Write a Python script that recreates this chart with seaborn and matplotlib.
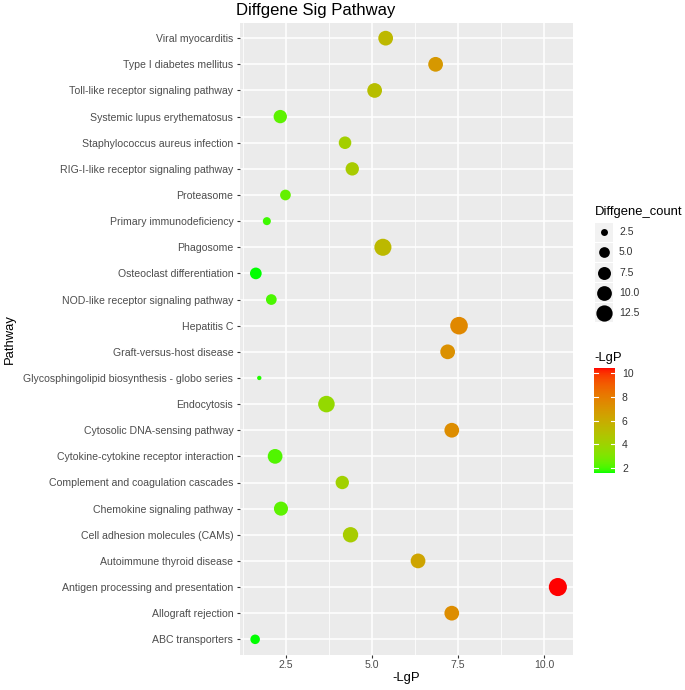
import numpy as np
import pandas as pd
import matplotlib
matplotlib.use("Agg")
import matplotlib.pyplot as plt
import seaborn as sns
from matplotlib.colors import ListedColormap, Normalize
from matplotlib.cm import ScalarMappable
from matplotlib.patches import Rectangle

# ---------------- data ----------------
pathways = [
    "ABC transporters",
    "Allograft rejection",
    "Antigen processing and presentation",
    "Autoimmune thyroid disease",
    "Cell adhesion molecules (CAMs)",
    "Chemokine signaling pathway",
    "Complement and coagulation cascades",
    "Cytokine-cytokine receptor interaction",
    "Cytosolic DNA-sensing pathway",
    "Endocytosis",
    "Glycosphingolipid biosynthesis - globo series",
    "Graft-versus-host disease",
    "Hepatitis C",
    "NOD-like receptor signaling pathway",
    "Osteoclast differentiation",
    "Phagosome",
    "Primary immunodeficiency",
    "Proteasome",
    "RIG-I-like receptor signaling pathway",
    "Staphylococcus aureus infection",
    "Systemic lupus erythematosus",
    "Toll-like receptor signaling pathway",
    "Type I diabetes mellitus",
    "Viral myocarditis",
]
neg_lgp = [1.61, 7.32, 10.40, 6.34, 4.38, 2.36, 4.14, 2.19, 7.32, 3.68,
           1.73, 7.20, 7.53, 2.08, 1.63, 5.32, 1.95, 2.49, 4.43, 4.22,
           2.34, 5.08, 6.85, 5.40]
gene_count = [4, 10, 16, 10, 11, 9, 8, 10, 10, 13,
              2, 10, 15, 5, 6, 14, 3, 5, 8, 7,
              8, 10, 10, 10]

x_ticks = [2.5, 5.0, 7.5, 10.0]
x_tick_labels = ["2.5", "5.0", "7.5", "10.0"]
x_minor_ticks = [1.25, 3.75, 6.25, 8.75]
size_legend_values = [2.5, 5.0, 7.5, 10.0, 12.5]
size_legend_labels = ["2.5", "5.0", "7.5", "10.0", "12.5"]
color_ticks = [2, 4, 6, 8, 10]

df = pd.DataFrame({"Pathway": pathways, "LgP": neg_lgp, "count": gene_count})

# ---------------- colour scale (Lab interpolation green -> red) ----------------
def srgb_to_lab(rgb):
    c = np.asarray(rgb, float)
    lin = np.where(c <= 0.04045, c / 12.92, ((c + 0.055) / 1.055) ** 2.4)
    M = np.array([[0.4124, 0.3576, 0.1805],
                  [0.2126, 0.7152, 0.0722],
                  [0.0193, 0.1192, 0.9505]])
    xyz = M @ lin / np.array([0.95047, 1.0, 1.08883])
    d = 6 / 29
    f = np.where(xyz > d ** 3, np.cbrt(xyz), xyz / (3 * d * d) + 4 / 29)
    return np.array([116 * f[1] - 16, 500 * (f[0] - f[1]), 200 * (f[1] - f[2])])

def lab_to_srgb(lab):
    L, a, b = lab
    fy = (L + 16) / 116
    fx = fy + a / 500
    fz = fy - b / 200
    d = 6 / 29
    f = np.array([fx, fy, fz])
    xyz = np.where(f > d, f ** 3, 3 * d * d * (f - 4 / 29)) * np.array([0.95047, 1.0, 1.08883])
    Minv = np.array([[3.2406, -1.5372, -0.4986],
                     [-0.9689, 1.8758, 0.0415],
                     [0.0557, -0.2040, 1.0570]])
    lin = Minv @ xyz
    lin = np.clip(lin, 0, 1)
    c = np.where(lin <= 0.0031308, 12.92 * lin, 1.055 * lin ** (1 / 2.4) - 0.055)
    return np.clip(c, 0, 1)

lab_lo = srgb_to_lab([0, 1, 0])
lab_hi = srgb_to_lab([1, 0, 0])
cmap = ListedColormap([lab_to_srgb(lab_lo + t * (lab_hi - lab_lo)) for t in np.linspace(0, 1, 256)])
norm = Normalize(vmin=min(neg_lgp), vmax=max(neg_lgp))

# ---------------- size scale (ggplot-like area palette) ----------------
cmin, cmax = min(gene_count), max(gene_count)
def diam_px(v):
    return 1.6 + 2.75 * (1 + 5 * np.sqrt(max(v - cmin, 0) / (cmax - cmin)))
def area_pt(v):
    return (diam_px(v) * 0.72) ** 2
size_dict = {v: area_pt(v) for v in sorted(set(gene_count))}

# ---------------- figure ----------------
plt.rcParams["font.family"] = ["Liberation Sans", "DejaVu Sans"]
W, H = 685, 690
fig = plt.figure(figsize=(W / 100, H / 100), dpi=100)
fig.patch.set_facecolor("white")

pl, pr, pt, pb = 240, 573, 22.5, 655
ax = fig.add_axes([pl / W, 1 - pb / H, (pr - pl) / W, (pb - pt) / H])
ax.set_facecolor("#EBEBEB")

sns.scatterplot(data=df, x="LgP", y="Pathway", hue="LgP", size="count",
                palette=cmap, hue_norm=norm, sizes=size_dict,
                linewidth=0, legend=False, ax=ax, zorder=3)

rng = max(neg_lgp) - min(neg_lgp)
ax.set_xlim(min(neg_lgp) - 0.05 * rng, max(neg_lgp) + 0.05 * rng)
ax.set_ylim(-0.6, len(pathways) - 1 + 0.6)

ax.set_xticks(x_ticks)
ax.set_xticklabels(x_tick_labels)
ax.set_xticks(x_minor_ticks, minor=True)
ax.grid(which="major", color="white", linewidth=1.1, zorder=0)
ax.grid(which="minor", axis="x", color="white", linewidth=0.55, zorder=0)
ax.set_axisbelow(True)
for s in ax.spines.values():
    s.set_visible(False)
ax.tick_params(which="major", length=2.2, width=0.8, color="#333333",
               labelsize=7.6, labelcolor="#4D4D4D", pad=1.6)
ax.tick_params(axis="y", which="major", pad=2.6)
ax.tick_params(which="minor", length=0)

ax.set_xlabel("-LgP", fontsize=9.4, color="black")
ax.xaxis.set_label_coords(0.5, -(678 - pb) / (pb - pt))
ax.xaxis.label.set_va("center")
ax.set_ylabel("Pathway", fontsize=9.4, color="black")
ax.yaxis.set_label_coords((10 - pl) / (pr - pl), 0.5)
ax.yaxis.label.set_va("center")

fig.text(236 / W, 1 - 15 / H, "Diffgene Sig Pathway", fontsize=12, va="baseline", ha="left")

# ---------------- size legend ----------------
lax = fig.add_axes([0, 0, 1, 1], facecolor="none")
lax.set_xlim(0, W)
lax.set_ylim(H, 0)
lax.axis("off")
lax.text(595, 212, "Diffgene_count", fontsize=9.4, va="center", ha="left")
row_h = 20.2
y0 = 222
for i, (v, lab) in enumerate(zip(size_legend_values, size_legend_labels)):
    yc = y0 + row_h * (i + 0.5)
    lax.add_patch(Rectangle((595.5, yc - row_h / 2 + 0.5), 18, row_h - 1,
                            facecolor="#F2F2F2", edgecolor="none"))
    lax.scatter([604.5], [yc], s=area_pt(v), color="black", linewidths=0)
    lax.text(619, yc, lab, fontsize=7.5, va="center", ha="left", color="#333333")

# ---------------- colour legend ----------------
lax.text(594, 358, "-LgP", fontsize=9.4, va="center", ha="left")
cax = fig.add_axes([594 / W, 1 - 473 / H, 21 / W, 105 / H])
cb = fig.colorbar(ScalarMappable(norm=norm, cmap=cmap), cax=cax, ticks=color_ticks)
cb.outline.set_visible(False)
cax.tick_params(length=0, labelsize=7.5, pad=5, labelcolor="#333333")
for t in color_ticks:
    cax.plot([0, 0.2], [t, t], color="white", linewidth=0.8)
    cax.plot([0.8, 1.0], [t, t], color="white", linewidth=0.8)

fig.savefig("out.png", dpi=100)
